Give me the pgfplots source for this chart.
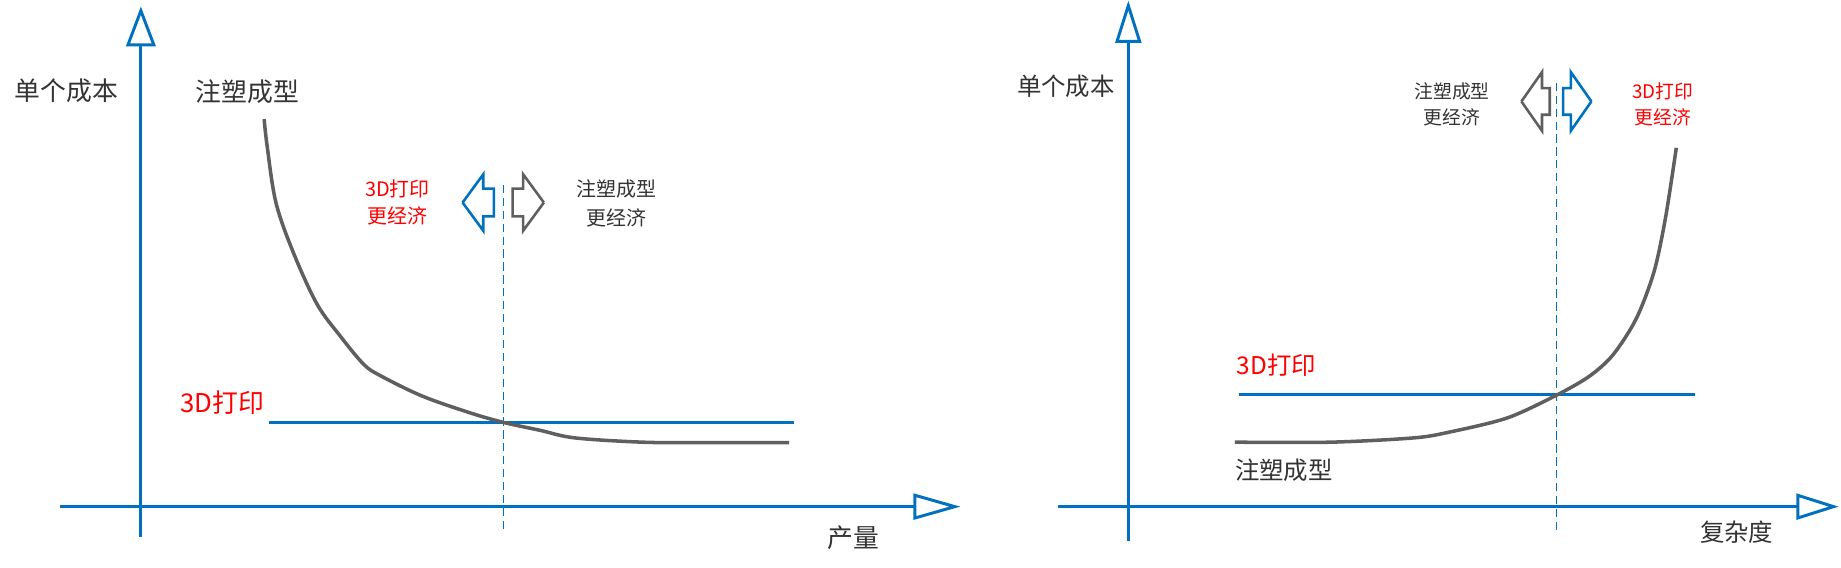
\documentclass[border=0pt]{standalone}
\usepackage{fontspec}
\setmainfont{Noto Sans CJK SC}
\usepackage{pgfplots}
\pgfplotsset{compat=1.18}
\usetikzlibrary{arrows.meta}
\definecolor{ablue}{HTML}{0070C0}
\definecolor{cgray}{HTML}{5F5F5F}
\definecolor{tdark}{HTML}{333333}
\definecolor{tred}{HTML}{FF0000}
\pgfplotsset{
 myaxis/.style={
   x=0.5pt, y=0.5pt,
   axis lines=middle,
   xtick=\empty, ytick=\empty,
   clip=false,
   axis line style={draw=ablue, line width=1.25pt},
 },
}
\tikzset{
 big/.style={font=\fontsize{11pt}{13pt}\selectfont, inner sep=0pt},
 bigr/.style={font=\fontsize{10.4pt}{12pt}\selectfont, inner sep=0pt},
 small/.style={font=\fontsize{8.5pt}{10pt}\selectfont, inner sep=0pt},
 smallr/.style={font=\fontsize{8pt}{10pt}\selectfont, inner sep=0pt},
}
\begin{document}
\begin{tikzpicture}
\useasboundingbox (0,0) rectangle (784pt,241.5pt);
% ---------------- left chart ----------------
\begin{axis}[myaxis, at={(25.5pt,12.75pt)}, anchor=south west,
  xmin=-69, xmax=698, ymin=-26, ymax=426,
  every inner x axis line/.append style={-{Triangle[open,length=20pt,width=11pt]}},
  every inner y axis line/.append style={-{Triangle[open,length=17pt,width=12.5pt]}},
]
\addplot[ablue, line width=0.6pt, dash pattern=on 3.5pt off 2pt] coordinates {(308.6,274) (308.6,-19)};
\addplot[ablue, line width=1.5pt] coordinates {(109,71.7) (556,71.7)};
\addplot[cgray, line width=1.5pt, smooth, tension=0.55] coordinates {
 (105,330) (107.4,308) (115,259) (130,216) (150,172.5) (170,145) (190,121) (205,111)
 (240,94) (280,80) (308.5,71.8) (340,65) (370,58.5) (430,54.8) (490,54.5) (552,54.5)};
% block arrows
\addplot[ablue, line width=1.1pt, line join=miter] coordinates {
 (274,259) (291.6,283) (291.6,270.8) (300.6,270.8) (300.6,247.2) (291.6,247.2) (291.6,235) (274,259)};
\addplot[cgray, line width=1.1pt, line join=miter] coordinates {
 (343.2,259) (325.6,283) (325.6,270.8) (316.6,270.8) (316.6,247.2) (325.6,247.2) (325.6,235) (343.2,259)};
% texts
\node[big, text=tdark] at (axis cs:-63.5,354.3) {单个成本};
\node[big, text=tdark] at (axis cs:90.8,353.7) {注塑成型};
\node[big, text=tred] at (axis cs:69.5,88.3) {3D打印};
\node[small, text=tred] at (axis cs:218.5,270.3) {3D打印};
\node[small, text=tred] at (axis cs:218.5,247.3) {更经济};
\node[small, text=tdark] at (axis cs:405.4,270.3) {注塑成型};
\node[small, text=tdark] at (axis cs:405.4,246.3) {更经济};
\node[big, text=tdark] at (axis cs:606.6,-26.2) {产量};
\end{axis}
% ---------------- right chart ----------------
\begin{axis}[myaxis, at={(450.5pt,11.25pt)}, anchor=south west,
  xmin=-60, xmax=605, ymin=-29, ymax=431,
  every inner x axis line/.append style={-{Triangle[open,length=18pt,width=11pt]}},
  every inner y axis line/.append style={-{Triangle[open,length=18pt,width=11pt]}},
]
\addplot[ablue, line width=0.6pt, dash pattern=on 3.5pt off 2pt] coordinates {(364.6,361) (364.6,-20)};
\addplot[ablue, line width=1.5pt] coordinates {(94,95.5) (482.6,95.5)};
\addplot[cgray, line width=1.5pt, smooth, tension=0.5] coordinates {
 (90.8,54.9) (172.5,54.9) (242.6,58.5) (272.6,63.3) (322.6,75.5) (364.6,94.9)
 (392.6,111) (412.8,129.3) (432.7,160.3) (447.8,200.3) (457.6,246.5) (466.7,305.6)};
\addplot[cgray, line width=1.1pt, line join=miter] coordinates {
 (334.8,345.1) (352.3,370.1) (352.3,356.4) (358.9,356.4) (358.9,333.8) (352.3,333.8) (352.3,320.1) (334.8,345.1)};
\addplot[ablue, line width=1.1pt, line join=miter] coordinates {
 (394.4,345.1) (376.9,370.1) (376.9,356.4) (370.3,356.4) (370.3,333.8) (376.9,333.8) (376.9,320.1) (394.4,345.1)};
\node[bigr, text=tdark] at (axis cs:-53.2,358) {单个成本};
\node[smallr, text=tdark] at (axis cs:275.8,353.3) {注塑成型};
\node[smallr, text=tdark] at (axis cs:275.8,331.3) {更经济};
\node[smallr, text=tred] at (axis cs:455.1,353.3) {3D打印};
\node[smallr, text=tred] at (axis cs:455.1,331.3) {更经济};
\node[bigr, text=tred] at (axis cs:126.2,120.3) {3D打印};
\node[bigr, text=tdark] at (axis cs:132.5,30.8) {注塑成型};
\node[bigr, text=tdark] at (axis cs:518.2,-21.5) {复杂度};
\end{axis}
\end{tikzpicture}
\end{document}
